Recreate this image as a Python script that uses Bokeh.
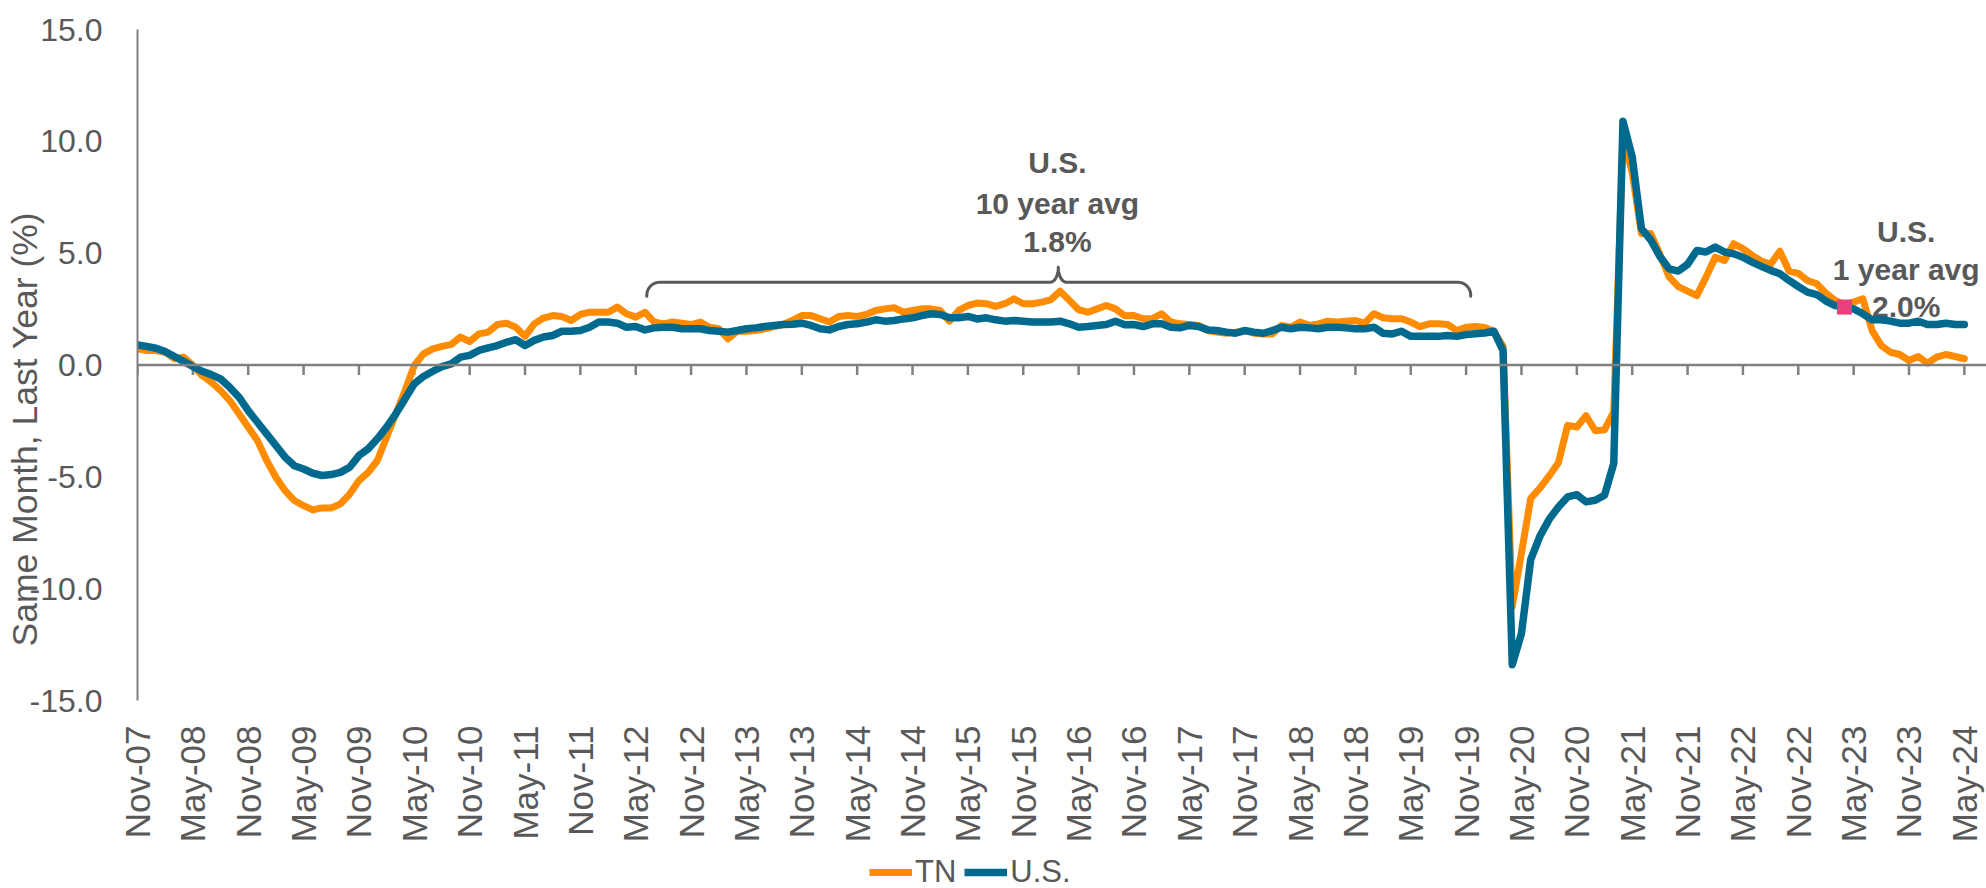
import numpy as np
from math import pi
from bokeh.plotting import figure
from bokeh.layouts import column
from bokeh.models import (Span, Legend, LegendItem, FixedTicker, Range1d,
                          NumeralTickFormatter)
from bokeh.core.properties import value
from bokeh.embed import file_html
from bokeh.resources import INLINE

# ---------------- data ----------------
tick_labels = ["Nov-07", "May-08", "Nov-08", "May-09", "Nov-09", "May-10", "Nov-10",
               "May-11", "Nov-11", "May-12", "Nov-12", "May-13", "Nov-13", "May-14",
               "Nov-14", "May-15", "Nov-15", "May-16", "Nov-16", "May-17", "Nov-17",
               "May-18", "Nov-18", "May-19", "Nov-19", "May-20", "Nov-20", "May-21",
               "Nov-21", "May-22", "Nov-22", "May-23", "Nov-23", "May-24"]

tn = [0.72, 0.65, 0.65, 0.57, 0.28, 0.35, -0.02, -0.47, -0.77, -1.14,
      -1.59, -2.18, -2.78, -3.38, -4.27, -5.02, -5.62, -6.06, -6.29, -6.48,
      -6.39, -6.39, -6.21, -5.77, -5.17, -4.80, -4.27, -3.23, -2.18, -1.14,
      -0.02, 0.50, 0.72, 0.83, 0.92, 1.25, 1.05, 1.39, 1.47, 1.81,
      1.87, 1.69, 1.28, 1.84, 2.10, 2.21, 2.17, 1.99, 2.26, 2.36,
      2.36, 2.36, 2.59, 2.29, 2.14, 2.36, 1.92, 1.84, 1.92, 1.87,
      1.81, 1.92, 1.69, 1.62, 1.17, 1.51, 1.51, 1.54, 1.62, 1.72,
      1.81, 2.00, 2.21, 2.21, 2.07, 1.92, 2.17, 2.21, 2.17, 2.26,
      2.44, 2.51, 2.56, 2.36, 2.44, 2.51, 2.51, 2.44, 1.96, 2.44,
      2.66, 2.77, 2.74, 2.62, 2.74, 2.96, 2.74, 2.74, 2.81, 2.92,
      3.30, 2.89, 2.47, 2.36, 2.51, 2.66, 2.51, 2.20, 2.21, 2.07,
      2.07, 2.29, 1.92, 1.84, 1.81, 1.77, 1.54, 1.47, 1.42, 1.47,
      1.54, 1.42, 1.39, 1.39, 1.77, 1.69, 1.92, 1.77, 1.84, 1.96,
      1.92, 1.96, 1.99, 1.87, 2.29, 2.11, 2.07, 2.07, 1.92, 1.72,
      1.84, 1.84, 1.81, 1.54, 1.69, 1.72, 1.68, 1.51, 0.84, -10.80,
      -8.40, -5.96, -5.50, -4.96, -4.37, -2.70, -2.77, -2.27, -2.94, -2.90,
      -2.10, 10.20, 8.60, 5.88, 5.88, 4.95, 3.94, 3.50, 3.30, 3.10,
      3.93, 4.82, 4.67, 5.42, 5.20, 4.90, 4.65, 4.50, 5.09, 4.20,
      4.10, 3.78, 3.63, 3.21, 2.88, 2.71, 2.81, 2.96, 1.54, 0.87,
      0.57, 0.47, 0.20, 0.38, 0.08, 0.35, 0.47, 0.38, 0.28]

us = [0.90, 0.83, 0.75, 0.60, 0.38, 0.16, -0.07, -0.28, -0.43, -0.62,
      -1.00, -1.44, -2.04, -2.56, -3.08, -3.60, -4.12, -4.50, -4.65, -4.84,
      -4.94, -4.90, -4.80, -4.57, -4.05, -3.75, -3.30, -2.78, -2.18, -1.51,
      -0.84, -0.51, -0.28, -0.07, 0.05, 0.35, 0.43, 0.65, 0.77, 0.87,
      1.02, 1.13, 0.87, 1.10, 1.25, 1.32, 1.51, 1.51, 1.54, 1.69,
      1.92, 1.92, 1.87, 1.69, 1.72, 1.57, 1.66, 1.69, 1.69, 1.62,
      1.62, 1.62, 1.54, 1.51, 1.47, 1.54, 1.62, 1.66, 1.72, 1.77,
      1.81, 1.82, 1.87, 1.77, 1.62, 1.57, 1.72, 1.81, 1.84, 1.92,
      2.02, 1.96, 1.99, 2.06, 2.11, 2.21, 2.29, 2.26, 2.11, 2.11,
      2.17, 2.06, 2.11, 2.02, 1.96, 1.99, 1.96, 1.92, 1.92, 1.92,
      1.96, 1.84, 1.69, 1.72, 1.77, 1.81, 1.96, 1.80, 1.81, 1.72,
      1.84, 1.84, 1.69, 1.66, 1.77, 1.72, 1.57, 1.54, 1.47, 1.42,
      1.54, 1.47, 1.42, 1.54, 1.69, 1.62, 1.69, 1.66, 1.62, 1.69,
      1.69, 1.66, 1.62, 1.62, 1.69, 1.42, 1.39, 1.51, 1.28, 1.28,
      1.28, 1.28, 1.32, 1.28, 1.36, 1.40, 1.43, 1.51, 0.65, -13.40,
      -12.00, -8.70, -7.65, -6.90, -6.35, -5.90, -5.80, -6.12, -6.05, -5.82,
      -4.40, 10.90, 9.30, 6.10, 5.60, 4.85, 4.30, 4.20, 4.50, 5.12,
      5.05, 5.27, 5.05, 4.97, 4.82, 4.60, 4.41, 4.23, 4.08, 3.78,
      3.51, 3.26, 3.15, 2.86, 2.66, 2.59, 2.51, 2.29, 2.02, 2.02,
      1.96, 1.87, 1.87, 1.96, 1.81, 1.81, 1.87, 1.81, 1.81]

months = list(range(len(us)))          # month index from Nov-07
tick_step = 6
highlight_month = 185                  # Apr-23 marker on U.S. series

series_names = ["TN", "U.S."]
ten_year_text = ["U.S.", "10 year avg", "1.8%"]
one_year_text = ["U.S.", "1 year avg", "2.0%"]
y_title = "Same Month, Last Year (%)"

# ---------------- layout ----------------
W = 1986
H_MAIN, H_LEG = 845, 43
FRAME_L, FRAME_T, FRAME_B = 137, 29, 700
X_END = 200.4
Y0, Y1 = -15, 15
GRAY = "#595959"
AXIS = "#808080"
FONT = "Liberation Sans"
C_TN, C_US = "#FF8C00", "#006A8E"

p = figure(width=W, height=H_MAIN, output_backend="svg", toolbar_location=None,
           x_range=Range1d(0, X_END), y_range=Range1d(Y0, Y1),
           min_border_left=FRAME_L, min_border_right=0, min_border_top=FRAME_T,
           min_border_bottom=H_MAIN - FRAME_B)
p.outline_line_color = None
p.grid.visible = False
p.background_fill_color = "white"
p.border_fill_color = "white"

sx = (W - FRAME_L) / X_END            # px per month
sy = (FRAME_B - FRAME_T) / (Y1 - Y0)  # px per unit

# y axis
ya = p.yaxis[0]
ya.ticker = FixedTicker(ticks=list(range(-15, 16, 5)))
ya.formatter = NumeralTickFormatter(format="0.0")
ya.major_tick_line_color = None
ya.minor_tick_line_color = None
ya.major_tick_out = 0
ya.major_label_standoff = 35
ya.axis_line_color = AXIS
ya.axis_line_width = 2
ya.major_label_text_font = FONT
ya.major_label_text_font_size = "32px"
ya.major_label_text_color = GRAY
# title overlaps the tick labels as in the original; trailing no-break spaces
# shift it downward along the axis
ya.axis_label = y_title + "\u00a0" * 13
ya.axis_label_standoff = -18
ya.axis_label_text_font = FONT
ya.axis_label_text_font_size = "35.5px"
ya.axis_label_text_font_style = "normal"
ya.axis_label_text_color = GRAY

# x axis (labels only; the axis line is drawn at zero)
tick_pos = list(range(0, len(us), tick_step))
xa = p.xaxis[0]
xa.ticker = FixedTicker(ticks=tick_pos)
xa.major_label_overrides = {t: lab for t, lab in zip(tick_pos, tick_labels)}
xa.major_label_orientation = pi / 2
xa.axis_line_color = None
xa.major_tick_line_color = None
xa.minor_tick_line_color = None
xa.major_tick_out = 0
xa.major_label_standoff = 25
xa.major_label_text_font = FONT
xa.major_label_text_font_size = "35px"
xa.major_label_text_color = GRAY

# zero line with ticks hanging below
p.add_layout(Span(location=0, dimension="width", line_color=AXIS, line_width=2.5))
tick_len = 10 / sy
p.segment(x0=tick_pos, y0=[0] * len(tick_pos), x1=tick_pos,
          y1=[-tick_len] * len(tick_pos), line_color=AXIS, line_width=2.5)

# curly brace over the ten-year span
def brace(left, right, centre, level):
    r, drop, h, w = 13.0, 14.0, 15.0, 8.0
    t = np.linspace(0, pi / 2, 12)
    xs, ys = [left], [level - drop / sy]
    xs += list(left + (r - r * np.cos(t)) / sx); ys += list(level + (-r + r * np.sin(t)) / sy)
    xs += list(centre + (-w + w * np.sin(t)) / sx); ys += list(level + (h - h * np.cos(t)) / sy)
    tr = t[::-1]
    xs += list(centre + (w - w * np.sin(tr)) / sx); ys += list(level + (h - h * np.cos(tr)) / sy)
    xs += list(right + (-r + r * np.sin(t)) / sx); ys += list(level + (-r + r * np.cos(t)) / sy)
    xs += [right]; ys += [level - drop / sy]
    return xs, ys

bx, by = brace(55.2, 144.5, 99.8, 3.70)
p.line(bx, by, line_color=GRAY, line_width=3, line_join="round", line_cap="round")

p.text(x=[99.7] * 3, y=[9.05, 7.22, 5.52], text=ten_year_text,
       text_font=value(FONT), text_font_style="bold", text_font_size="30px",
       text_color=GRAY, text_align="center", text_baseline="middle")
p.text(x=[191.7] * 3, y=[5.95, 4.25, 2.60], text=one_year_text,
       text_font=value(FONT), text_font_style="bold", text_font_size="30px",
       text_color=GRAY, text_align="center", text_baseline="middle")

# series
p.line(months, tn, line_color=C_TN, line_width=7, line_join="round", line_cap="round")
p.line(months, us, line_color=C_US, line_width=7.5, line_join="round", line_cap="round")
p.scatter(x=[highlight_month], y=[us[highlight_month]], marker="square", size=14,
          fill_color="#EC3F7F", line_color="#EC3F7F")

# ---------------- legend strip below the chart ----------------
# (its frame is aligned with the main frame by the column layout; the series
#  are drawn there outside the visible range so only the legend shows)
pl = figure(width=W, height=H_LEG, output_backend="svg", toolbar_location=None,
            x_range=Range1d(0, X_END), y_range=Range1d(1000, 1001),
            x_axis_location=None, y_axis_location=None,
            min_border=0, min_border_left=0, min_border_right=0,
            min_border_top=0, min_border_bottom=0)
pl.outline_line_color = None
pl.grid.visible = False
pl.background_fill_color = "white"
pl.border_fill_color = "white"
l_tn = pl.line(months, tn, line_color=C_TN, line_width=7)
l_us = pl.line(months, us, line_color=C_US, line_width=7.5)
legend = Legend(items=[LegendItem(label=series_names[0], renderers=[l_tn]),
                       LegendItem(label=series_names[1], renderers=[l_us])],
                location=(869 - FRAME_L, -2), orientation="horizontal",
                glyph_width=43, glyph_height=34, label_standoff=3, spacing=8,
                padding=0, margin=0, border_line_color=None,
                background_fill_alpha=0, label_text_font=FONT,
                label_text_font_size="31px", label_text_color=GRAY,
                label_height=34)
pl.add_layout(legend)

layout = column(p, pl, spacing=0)
open("out.html", "w").write(file_html(layout, INLINE))
